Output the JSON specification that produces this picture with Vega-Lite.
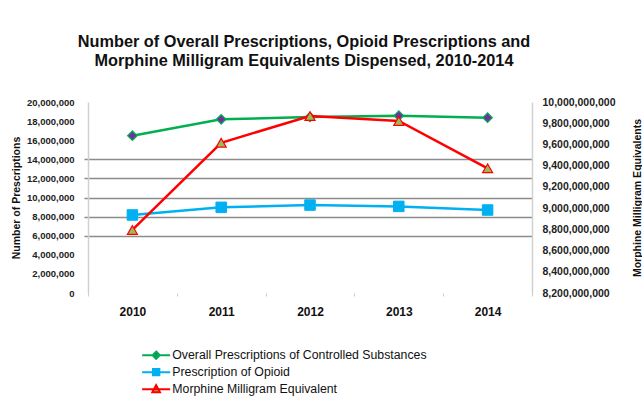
{
  "$schema": "https://vega.github.io/schema/vega-lite/v6.json",
  "autosize": {"type": "none"},
  "width": 444,
  "height": 191,
  "padding": {"left": 88, "top": 102, "right": 110, "bottom": 109},
  "background": "white",
  "config": {"font": "Liberation Sans", "view": {"stroke": null}},
  "title": {
    "text": ["Number of Overall Prescriptions, Opioid Prescriptions and", "Morphine Milligram Equivalents Dispensed, 2010-2014"],
    "fontSize": 16.3,
    "font": "Liberation Sans",
    "fontWeight": "bold",
    "color": "#111111",
    "lineHeight": 19,
    "offset": 28,
    "dx": -6
  },
  "data": {
    "values": [
      {"year": "2010", "series": "Overall Prescriptions of Controlled Substances", "value": 16470000},
      {"year": "2011", "series": "Overall Prescriptions of Controlled Substances", "value": 18190000},
      {"year": "2012", "series": "Overall Prescriptions of Controlled Substances", "value": 18430000},
      {"year": "2013", "series": "Overall Prescriptions of Controlled Substances", "value": 18570000},
      {"year": "2014", "series": "Overall Prescriptions of Controlled Substances", "value": 18360000},
      {"year": "2010", "series": "Prescription of Opioid", "value": 8170000},
      {"year": "2011", "series": "Prescription of Opioid", "value": 8970000},
      {"year": "2012", "series": "Prescription of Opioid", "value": 9210000},
      {"year": "2013", "series": "Prescription of Opioid", "value": 9070000},
      {"year": "2014", "series": "Prescription of Opioid", "value": 8690000},
      {"year": "2010", "series": "Morphine Milligram Equivalent", "value": 8794000000},
      {"year": "2011", "series": "Morphine Milligram Equivalent", "value": 9616000000},
      {"year": "2012", "series": "Morphine Milligram Equivalent", "value": 9868000000},
      {"year": "2013", "series": "Morphine Milligram Equivalent", "value": 9821000000},
      {"year": "2014", "series": "Morphine Milligram Equivalent", "value": 9375000000}
    ]
  },
  "encoding": {
    "x": {
      "field": "year",
      "type": "ordinal",
      "scale": {"type": "band", "paddingInner": 0, "paddingOuter": 0},
      "axis": {
        "title": null,
        "labelAngle": 0,
        "domain": false,
        "tickBand": "extent",
        "tickColor": "#cccccc",
        "tickSize": 3,
        "labelFontWeight": "bold",
        "labelFontSize": 12,
        "labelPadding": 10,
        "labelColor": "#111111"
      }
    }
  },
  "layer": [
    {
      "transform": [{"filter": "datum.series != 'Morphine Milligram Equivalent'"}],
      "encoding": {
        "y": {
          "field": "value",
          "type": "quantitative",
          "scale": {"domain": [0, 20000000], "nice": false},
          "axis": {
            "orient": "left",
            "title": "Number of Prescriptions",
            "values": [0, 2000000, 4000000, 6000000, 8000000, 10000000, 12000000, 14000000, 16000000, 18000000, 20000000],
            "format": ",d",
            "labelFontSize": 9.5,
            "labelFontWeight": "bold",
            "labelColor": "#222222",
            "labelPadding": 10,
            "domainColor": "#d0d0d0",
            "domainWidth": 1.5,
            "tickSize": 4,
            "tickColor": "#8c8c8c",
            "tickWidth": 1.5,
            "tickOpacity": {"condition": {"test": "datum.value >= 6000000 && datum.value <= 14000000", "value": 1}, "value": 0},
            "grid": true,
            "gridColor": "#8c8c8c",
            "gridWidth": 1.5,
            "gridOpacity": {"condition": {"test": "datum.value >= 6000000 && datum.value <= 14000000", "value": 1}, "value": 0},
            "titleFontSize": 10.5,
            "titleFontWeight": "bold",
            "titleColor": "#111111",
            "titlePadding": 5
          }
        }
      },
      "layer": [
        {
          "mark": {"type": "line", "strokeWidth": 2.5},
          "encoding": {
            "color": {
              "field": "series",
              "type": "nominal",
              "scale": {
                "domain": ["Overall Prescriptions of Controlled Substances", "Prescription of Opioid", "Morphine Milligram Equivalent"],
                "range": ["#00B050", "#00B0F0", "#FF0000"]
              },
              "legend": {
                "title": null,
                "orient": "none",
                "legendX": 62,
                "legendY": 247,
                "direction": "vertical",
                "symbolSize": 64,
                "symbolStrokeWidth": 2,
                "labelFontSize": 12.3,
                "labelFont": "Liberation Sans",
                "labelColor": "#111111",
                "labelOffset": 10,
                "labelLimit": 400,
                "rowPadding": 1,
                "encode": {
                  "symbols": {
                    "update": {
                      "shape": {"signal": "datum.value == 'Overall Prescriptions of Controlled Substances' ? 'M-3.5,0H3.5M0,-0.9L0.9,0L0,0.9L-0.9,0Z' : datum.value == 'Prescription of Opioid' ? 'M-3.5,0H3.5M-0.8,-0.8H0.8V0.8H-0.8Z' : 'M-3.5,0H3.5M0,-1L0.95,0.75H-0.95Z'"},
                      "fill": {"signal": "datum.value == 'Overall Prescriptions of Controlled Substances' ? '#7030A0' : datum.value == 'Prescription of Opioid' ? '#00B0F0' : '#9BBB59'"},
                      "stroke": {"signal": "datum.value == 'Overall Prescriptions of Controlled Substances' ? '#00B050' : datum.value == 'Prescription of Opioid' ? '#00B0F0' : '#FF0000'"},
                      "opacity": {"value": 1}
                    }
                  }
                }
              }
            }
          }
        },
        {
          "transform": [{"filter": "datum.series == 'Overall Prescriptions of Controlled Substances'"}],
          "mark": {"type": "point", "shape": "diamond", "filled": true, "fill": "#7030A0", "stroke": "#00B050", "strokeWidth": 1.2, "size": 90, "opacity": 1}
        },
        {
          "transform": [{"filter": "datum.series == 'Prescription of Opioid'"}],
          "mark": {"type": "point", "shape": "square", "filled": true, "fill": "#00B0F0", "stroke": "#00B0F0", "strokeWidth": 1, "size": 110, "opacity": 1}
        }
      ]
    },
    {
      "transform": [{"filter": "datum.series == 'Morphine Milligram Equivalent'"}],
      "encoding": {
        "y": {
          "field": "value",
          "type": "quantitative",
          "scale": {"domain": [8200000000, 10000000000], "nice": false, "zero": false},
          "axis": {
            "orient": "right",
            "title": "Morphine Milligram Equivalents",
            "titleAngle": 270,
            "values": [8200000000, 8400000000, 8600000000, 8800000000, 9000000000, 9200000000, 9400000000, 9600000000, 9800000000, 10000000000],
            "format": ",d",
            "grid": false,
            "ticks": false,
            "labelFontSize": 10.5,
            "labelFontWeight": "bold",
            "labelColor": "#222222",
            "labelPadding": 10,
            "domainColor": "#d0d0d0",
            "domainWidth": 1.5,
            "titleFontSize": 10.5,
            "titleFontWeight": "bold",
            "titleColor": "#111111",
            "titlePadding": 28
          }
        }
      },
      "layer": [
        {
          "mark": {"type": "line", "strokeWidth": 2.5},
          "encoding": {"color": {"field": "series", "type": "nominal"}}
        },
        {
          "mark": {"type": "point", "shape": "triangle-up", "filled": true, "fill": "#9BBB59", "stroke": "#FF0000", "strokeWidth": 1.2, "size": 100, "opacity": 1}
        }
      ]
    }
  ],
  "resolve": {"scale": {"y": "independent"}}
}
